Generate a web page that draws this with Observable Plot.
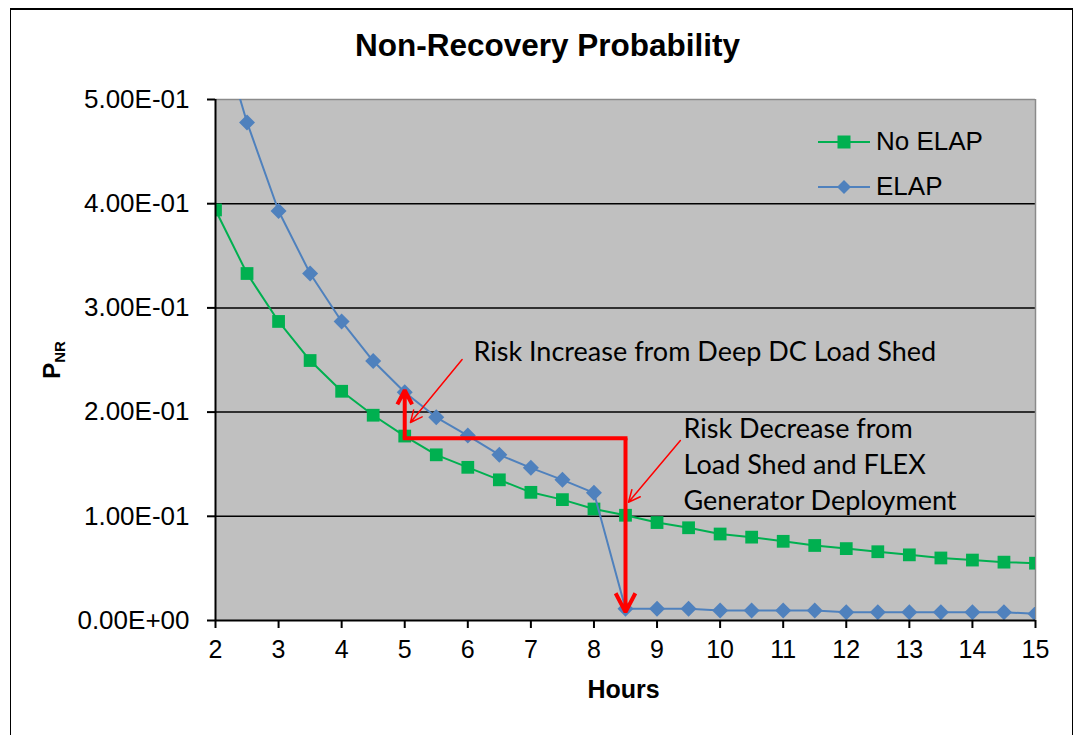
<!DOCTYPE html>
<html>
<head>
<meta charset="utf-8">
<script src="https://cdn.jsdelivr.net/npm/d3@7"></script>
<script src="https://cdn.jsdelivr.net/npm/@observablehq/plot@0.6"></script>
<style>
  html, body { margin: 0; padding: 0; background: #fff; }
  #wrap { position: relative; width: 1076px; height: 735px; overflow: hidden; font-family: "Liberation Sans", Arial, sans-serif; color: #000; }
  #frame { position: absolute; left: 10px; top: 8px; width: 1063px; height: 760px; border: 1.5px solid #000; border-top-width: 2.5px; box-sizing: border-box; }
  #title { position: absolute; top: 30px; left: 0; width: 1095px; text-align: center; font-weight: bold; font-size: 31.5px; line-height: 30px; white-space: nowrap; }
  #chart { position: absolute; left: 0; top: 70px; }
  #ylabel { position: absolute; left: 56px; top: 360px; transform: translate(-50%, -50%) rotate(-90deg); font-weight: bold; font-size: 24px; line-height: 30px; white-space: nowrap; }
  #ylabel sub { font-size: 15px; vertical-align: -5px; }
  #legend { position: absolute; left: 0; top: 0; pointer-events: none; }
</style>
</head>
<body>
<div id="wrap">
  <div id="frame"></div>
  <div id="title">Non-Recovery Probability</div>
  <div id="chart"></div>
  <div id="ylabel">P<sub>NR</sub></div>
  <svg id="legend" width="1076" height="735"></svg>
</div>
<script>
// ---- Data ----
const hours = [2, 2.5, 3, 3.5, 4, 4.5, 5, 5.5, 6, 6.5, 7, 7.5, 8, 8.5, 9, 9.5, 10, 10.5, 11, 11.5, 12, 12.5, 13, 13.5, 14, 14.5, 15];
const noElap = [0.394, 0.333, 0.287, 0.2495, 0.220, 0.197, 0.177, 0.159, 0.147, 0.135, 0.123, 0.116, 0.107, 0.101, 0.094, 0.089, 0.083, 0.080, 0.076, 0.072, 0.069, 0.066, 0.063, 0.060, 0.058, 0.056, 0.055];
const elap = [0.58, 0.478, 0.393, 0.333, 0.287, 0.249, 0.219, 0.195, 0.1775, 0.159, 0.1465, 0.135, 0.1225, 0.0112, 0.0112, 0.0112, 0.0096, 0.0096, 0.0096, 0.0096, 0.008, 0.008, 0.008, 0.008, 0.008, 0.008, 0.0064];
const seriesNames = ["No ELAP", "ELAP"];

const xTicks = [2, 3, 4, 5, 6, 7, 8, 9, 10, 11, 12, 13, 14, 15];
const yTicks = [0, 0.1, 0.2, 0.3, 0.4, 0.5];
const yTickLabels = ["0.00E+00", "1.00E-01", "2.00E-01", "3.00E-01", "4.00E-01", "5.00E-01"];
const gridValues = [0.1, 0.2, 0.3, 0.4];

// Annotations (data coordinates)
const thickPathX = [5, 8.5];
const thickPathY = [0.175, 0.175];
const thickArrowX1 = [5, 8.5];
const thickArrowY1 = [0.175, 0.175];
const thickArrowX2 = [5, 8.5];
const thickArrowY2 = [0.221, 0.008];
const thinArrowX1 = [5.91, 9.37];
const thinArrowY1 = [0.2505, 0.1727];
const thinArrowX2 = [5.09, 8.547];
const thinArrowY2 = [0.190, 0.1135];
const noteTexts = ["Risk Increase from Deep DC Load Shed", "Risk Decrease from\nLoad Shed and FLEX\nGenerator Deployment"];
const noteX = [6.09, 9.42];
const noteY = [0.2495, 0.1056];

const GREEN = "#00B050";
const BLUE = "#4F81BD";
const RED = "#FF0000";

const noElapData = hours.map((h, i) => ({hours: h, p: noElap[i]}));
const elapData = hours.map((h, i) => ({hours: h, p: elap[i]}));
const thickPath = thickPathX.map((x, i) => ({x, y: thickPathY[i]}));
const thickArrows = thickArrowX1.map((x, i) => ({x1: x, y1: thickArrowY1[i], x2: thickArrowX2[i], y2: thickArrowY2[i]}));
const thinArrows = thinArrowX1.map((x, i) => ({x1: x, y1: thinArrowY1[i], x2: thinArrowX2[i], y2: thinArrowY2[i]}));
const notes = noteTexts.map((t, i) => ({t, x: noteX[i], y: noteY[i]}));
const yLabelOf = v => yTickLabels[yTicks.findIndex(t => Math.abs(t - v) < 1e-9)];

const chart = Plot.plot({
  width: 1076,
  height: 665,
  marginLeft: 215,
  marginRight: 41,
  marginTop: 29,
  marginBottom: 115,
  x: {domain: [2, 15]},
  y: {domain: [0, 0.5]},
  style: {fontFamily: "'Liberation Sans', Arial, sans-serif", fontSize: "26px", color: "#000", background: "transparent", overflow: "visible"},
  marks: [
    Plot.frame({fill: "#C0C0C0", stroke: "none"}),
    Plot.ruleY(gridValues, {stroke: "#000", strokeWidth: 1.5}),
    Plot.ruleY([0.5], {stroke: "#8a8a8a", strokeWidth: 1.5}),
    Plot.ruleX([15], {stroke: "#8a8a8a", strokeWidth: 1.5}),
    Plot.line(noElapData, {x: "hours", y: "p", stroke: GREEN, strokeWidth: 2, clip: true}),
    Plot.dot(noElapData, {x: "hours", y: "p", symbol: "square", r: 7.2, fill: GREEN, stroke: "none", clip: true}),
    Plot.line(elapData, {x: "hours", y: "p", stroke: BLUE, strokeWidth: 2, clip: true}),
    Plot.dot(elapData, {x: "hours", y: "p", symbol: d3.symbolDiamond2, r: 7.2, fill: BLUE, stroke: "none", clip: true}),
    Plot.ruleX([2], {stroke: "#000", strokeWidth: 2}),
    Plot.ruleY([0], {stroke: "#000", strokeWidth: 2}),
    Plot.axisX({ticks: xTicks, tickSize: 8, tickPadding: 12, tickFormat: d => String(d), fontSize: 25, label: null, stroke: "#000", strokeWidth: 2}),
    Plot.axisY({ticks: yTicks, tickSize: 8, tickPadding: 18, tickFormat: yLabelOf, fontSize: 26, label: null, stroke: "#000", strokeWidth: 2}),
    Plot.text(["Hours"], {frameAnchor: "bottom", lineAnchor: "bottom", text: d => d, dy: 77, dx: -2, fontWeight: "bold", fontSize: 25, fill: "#000"}),
    Plot.line(thickPath, {x: "x", y: "y", stroke: RED, strokeWidth: 4, strokeLinecap: "square"}),
    Plot.arrow(thickArrows, {x1: "x1", y1: "y1", x2: "x2", y2: "y2", stroke: RED, strokeWidth: 4, headLength: 8, headAngle: 55, strokeLinejoin: "miter", strokeLinecap: "butt"}),
    Plot.arrow(thinArrows, {x1: "x1", y1: "y1", x2: "x2", y2: "y2", stroke: RED, strokeWidth: 1.5, headLength: 13, headAngle: 50}),
    Plot.text(notes, {x: "x", y: "y", text: "t", textAnchor: "start", lineAnchor: "bottom", fontFamily: "Lato, sans-serif", fontSize: 27, lineHeight: 1.333, fill: "#000"})
  ]
});
document.getElementById("chart").appendChild(chart);

// ---- Legend (inside plot area, top right) ----
const lg = d3.select("#legend");
const legendItems = [
  {name: seriesNames[0], color: GREEN, shape: "square", y: 142, base: 150},
  {name: seriesNames[1], color: BLUE, shape: "diamond", y: 187, base: 195}
];
legendItems.forEach(it => {
  lg.append("line").attr("x1", 818).attr("x2", 870).attr("y1", it.y).attr("y2", it.y)
    .attr("stroke", it.color).attr("stroke-width", 2);
  if (it.shape === "square") {
    lg.append("rect").attr("x", 844 - 6.5).attr("y", it.y - 6.5).attr("width", 13).attr("height", 13).attr("fill", it.color);
  } else {
    lg.append("path").attr("d", `M844,${it.y - 7}L851,${it.y}L844,${it.y + 7}L837,${it.y}Z`).attr("fill", it.color);
  }
  lg.append("text").attr("x", 876).attr("y", it.base).text(it.name)
    .attr("font-family", "'Liberation Sans', Arial, sans-serif").attr("font-size", 26).attr("fill", "#000");
});
</script>
</body>
</html>
